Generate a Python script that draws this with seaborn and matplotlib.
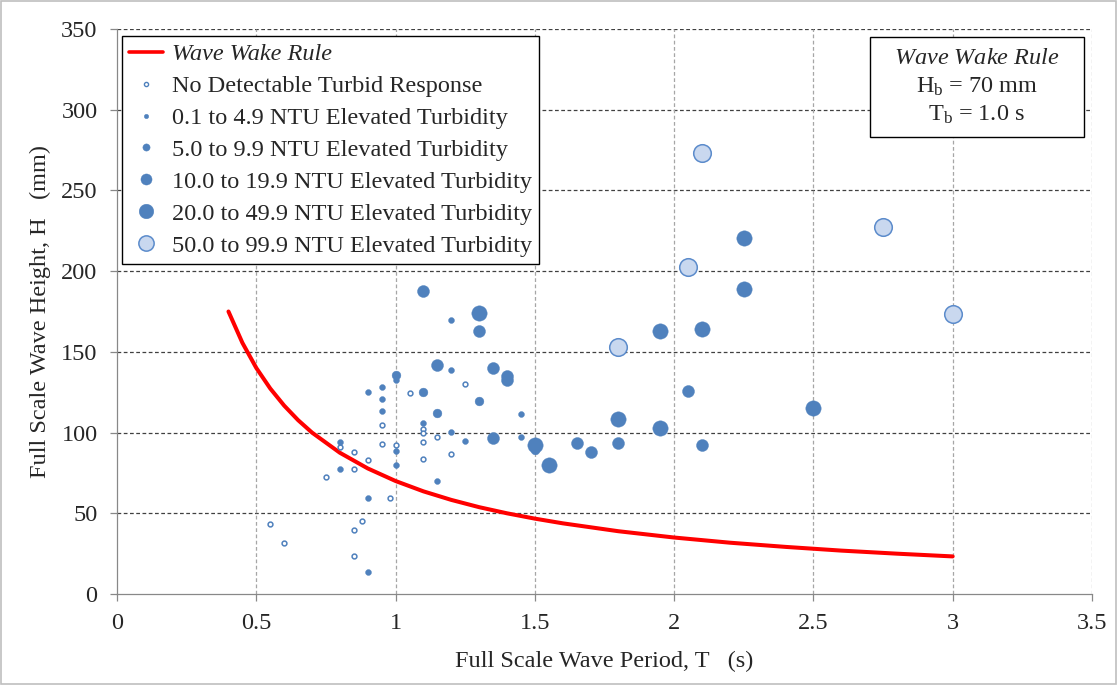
import matplotlib
matplotlib.use("Agg")
import matplotlib.pyplot as plt
from matplotlib.lines import Line2D
from matplotlib.patches import Rectangle
import seaborn as sns
import pandas as pd

# ---------------- data ----------------
rule_T = [0.40, 0.45, 0.50, 0.55, 0.60, 0.65, 0.70, 0.80, 0.90, 1.00, 1.10, 1.20, 1.30, 1.40,
          1.50, 1.60, 1.80, 2.00, 2.20, 2.40, 2.60, 2.80, 3.00]
rule_H = [175.0, 155.6, 140.0, 127.3, 116.7, 107.7, 100.0, 87.5, 77.8, 70.0, 63.6, 58.3, 53.8, 50.0,
          46.7, 43.8, 38.9, 35.0, 31.8, 29.2, 26.9, 25.0, 23.3]

none_T = [1.05, 0.95, 0.80, 0.85, 0.90, 0.85, 0.75, 0.95, 1.00, 0.98, 0.55, 0.60, 0.88, 0.85,
          0.85, 1.10, 1.10, 1.10, 1.10, 1.15, 1.20, 1.25]
none_H = [124.5, 104.5, 90.9, 88.2, 83.0, 77.3, 72.3, 92.7, 92.1, 59.5, 43.4, 31.6, 45.2, 39.5,
          23.5, 102.0, 99.5, 94.2, 83.8, 97.5, 86.6, 130.1]

ntu01_T = [0.90, 0.95, 0.95, 0.95, 1.00, 0.80, 0.80, 1.00, 1.00, 0.90, 0.90, 1.20, 1.20, 1.45,
           1.10, 1.20, 1.25, 1.45, 1.15]
ntu01_H = [125.3, 128.4, 120.8, 113.4, 132.6, 94.4, 77.3, 88.6, 80.1, 59.5, 13.8, 170.0, 138.8,
           111.7, 106.1, 100.2, 94.8, 97.5, 70.0]

ntu05_T = [1.00, 1.10, 1.30, 1.15, 1.50]
ntu05_H = [135.7, 125.0, 119.8, 112.0, 89.0]

ntu10_T = [1.10, 1.30, 1.15, 1.35, 1.40, 1.40, 1.35, 1.65, 1.70, 1.80, 2.05, 2.10]
ntu10_H = [187.7, 163.0, 141.9, 140.2, 135.0, 132.6, 96.9, 93.4, 88.2, 93.4, 125.6, 92.5]

ntu20_T = [1.30, 1.50, 1.55, 1.80, 1.95, 1.95, 2.10, 2.25, 2.25, 2.50]
ntu20_H = [173.9, 92.1, 79.9, 108.2, 162.8, 102.9, 164.2, 220.6, 189.0, 115.2]

ntu50_T = [2.10, 2.75, 2.05, 1.80, 3.00]
ntu50_H = [273.0, 227.2, 202.6, 152.8, 173.5]

labels = ["No Detectable Turbid Response",
          "0.1 to 4.9 NTU Elevated Turbidity",
          "5.0 to 9.9 NTU Elevated Turbidity",
          "10.0 to 19.9 NTU Elevated Turbidity",
          "20.0 to 49.9 NTU Elevated Turbidity",
          "50.0 to 99.9 NTU Elevated Turbidity"]

x_ticks = [0, 0.5, 1, 1.5, 2, 2.5, 3, 3.5]
x_ticklabels = ["0", "0.5", "1", "1.5", "2", "2.5", "3", "3.5"]
y_ticks = [0, 50, 100, 150, 200, 250, 300, 350]

# ---------------- style ----------------
sns.set_theme(style="white")
plt.rcParams["font.family"] = ["Liberation Serif", "DejaVu Serif"]
plt.rcParams["mathtext.fontset"] = "custom"
plt.rcParams["mathtext.rm"] = "Liberation Serif"
plt.rcParams["mathtext.it"] = "Liberation Serif:italic"

FS = 17.5
BLUE = "#4F81BD"
LIGHT = "#C9D8EF"

fig = plt.figure(figsize=(11.18, 6.85), dpi=100)
ax = fig.add_axes([0.1047, 0.1328, 0.9767 - 0.1047, 0.9577 - 0.1328])

# grid
for yv in y_ticks[1:]:
    ax.axhline(yv, color="#404040", lw=0.9, ls=(0, (3, 2)), zorder=0)
for xv in x_ticks[1:]:
    ax.axvline(xv, color="#A6A6A6", lw=0.9, ls=(0, (3, 2)), zorder=0)

# rule curve
rule_df = pd.DataFrame({"T": rule_T, "H": rule_H})
sns.lineplot(data=rule_df, x="T", y="H", ax=ax, color="#FF0000", lw=2.9, sort=False, zorder=2)

groups = [
    (none_T, none_H, dict(s=12, facecolor="white", edgecolor=BLUE, linewidth=1.1)),
    (ntu01_T, ntu01_H, dict(s=18, color=BLUE, edgecolor=BLUE, linewidth=0.3)),
    (ntu05_T, ntu05_H, dict(s=40, color=BLUE, edgecolor=BLUE, linewidth=0.3)),
    (ntu10_T, ntu10_H, dict(s=74, color=BLUE, edgecolor=BLUE, linewidth=0.3)),
    (ntu20_T, ntu20_H, dict(s=122, color=BLUE, edgecolor=BLUE, linewidth=0.3)),
    (ntu50_T, ntu50_H, dict(s=160, facecolor=LIGHT, edgecolor="#5B8BCB", linewidth=1.1)),
]
for T, H, kw in groups:
    df = pd.DataFrame({"T": T, "H": H})
    sns.scatterplot(data=df, x="T", y="H", ax=ax, zorder=3, legend=False, **kw)

ax.set_xlim(0, 3.5)
ax.set_ylim(0, 350)
ax.set_xticks(x_ticks)
ax.set_xticklabels(x_ticklabels)
ax.set_yticks(y_ticks)
ax.tick_params(axis="both", which="major", labelsize=FS, direction="out", length=5,
               color="#888888", width=0.9, pad=9, bottom=True, left=True)
for side in ["top", "right"]:
    ax.spines[side].set_visible(False)
for side in ["left", "bottom"]:
    ax.spines[side].set_color("#888888")
    ax.spines[side].set_linewidth(0.9)

ax.set_xlabel("Full Scale Wave Period, T   (s)", fontsize=FS, labelpad=12)
ax.set_ylabel("Full Scale Wave Height, H   (mm)", fontsize=FS, labelpad=7)

# legend
handles = [Line2D([0], [0], color="#FF0000", lw=2.6)]
leg_ms = [3.0, 3.2, 5.2, 8.0, 10.5, 11.0]
for i, lab in enumerate(labels):
    if i == 0:
        h = Line2D([0], [0], ls="", marker="o", ms=leg_ms[i], mfc="white", mec=BLUE, mew=1.0)
    elif i == 5:
        h = Line2D([0], [0], ls="", marker="o", ms=leg_ms[i], mfc=LIGHT, mec="#5B8BCB", mew=1.1)
    else:
        h = Line2D([0], [0], ls="", marker="o", ms=leg_ms[i], mfc=BLUE, mec=BLUE, mew=0.3)
    handles.append(h)
leg = ax.legend(handles, ["Wave Wake Rule"] + labels, loc="upper left",
                bbox_to_anchor=(0.005, 0.988), fontsize=FS, frameon=True, fancybox=False,
                edgecolor="black", framealpha=1, handlelength=1.4, handletextpad=0.35,
                borderpad=0.3, labelspacing=0.41, borderaxespad=0.0)
leg.get_frame().set_linewidth(1.0)
leg.get_texts()[0].set_fontstyle("italic")

# annotation box
ax.add_patch(Rectangle((0.772, 0.809), 0.220, 0.177, transform=ax.transAxes,
                       facecolor="white", edgecolor="black", lw=1.0, zorder=5))
ax.text(0.882, 0.897, "$\\mathit{Wave\\ Wake\\ Rule}$\nH$_\\mathrm{b}$ = 70 mm\nT$_\\mathrm{b}$ = 1.0 s",
        transform=ax.transAxes, ha="center", va="center", fontsize=FS, linespacing=1.35,
        multialignment="center", zorder=6)

# figure border
fig.patches.append(Rectangle((0.0005, 0.0008), 0.998, 0.998, transform=fig.transFigure,
                             fill=False, edgecolor="#BFBFBF", lw=1.2))

fig.savefig("out.png", dpi=100)
